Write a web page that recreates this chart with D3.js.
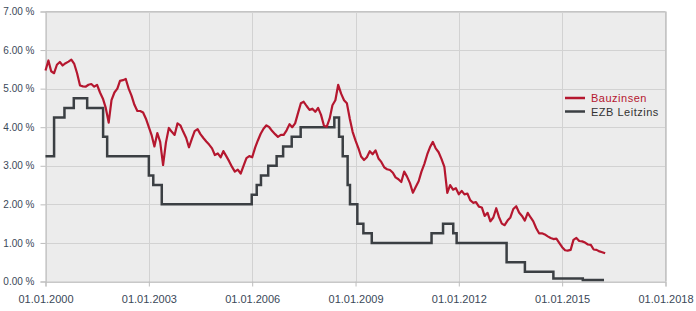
<!DOCTYPE html>
<html>
<head>
<meta charset="utf-8">
<script src="https://cdn.jsdelivr.net/npm/d3@7"></script>
<style>
  body { margin: 0; background: #fff; }
  svg text { font-family: "Liberation Sans", Arial, sans-serif; }
  .tick-label { fill: #3a4858; }
</style>
</head>
<body>
<svg id="chart" width="696" height="311"></svg>
<script>
// Bauzinsen, monthly from Jan 2000
var bauStart = '2000-01-01';
var bauzinsen = [
  5.47, 5.73, 5.45, 5.40, 5.62, 5.69, 5.60, 5.66, 5.70, 5.75, 5.64, 5.40,
  5.08, 5.06, 5.05, 5.10, 5.12, 5.05, 5.10, 4.90, 4.74, 4.50, 4.12, 4.70,
  4.90, 5.00, 5.20, 5.22, 5.25, 5.00, 4.82, 4.58, 4.42, 4.42, 4.38, 4.22,
  4.00, 3.78, 3.50, 3.85, 3.62, 3.02, 3.60, 3.98, 3.88, 3.80, 4.10, 4.05,
  3.88, 3.72, 3.48, 3.70, 3.90, 3.95, 3.82, 3.72, 3.63, 3.55, 3.45, 3.28,
  3.32, 3.22, 3.38, 3.25, 3.12, 2.97, 2.85, 2.90, 2.80, 3.00, 3.20, 3.25,
  3.22, 3.47, 3.65, 3.83, 3.96, 4.05, 4.00, 3.90, 3.82, 3.75, 3.80, 3.80,
  3.92, 4.08, 4.00, 4.10, 4.36, 4.62, 4.66, 4.55, 4.45, 4.48, 4.40, 4.50,
  4.32, 4.04, 4.01, 4.22, 4.57, 4.70, 5.10, 4.87, 4.70, 4.62, 4.22, 3.88,
  3.65, 3.45, 3.24, 3.15, 3.22, 3.38, 3.30, 3.40, 3.19, 3.10, 2.96, 2.91,
  2.89, 2.82, 2.70, 2.65, 2.58, 2.85, 2.72, 2.55, 2.30, 2.45, 2.60, 2.85,
  3.05, 3.30, 3.48, 3.62, 3.45, 3.35, 3.18, 2.97, 2.30, 2.50, 2.38, 2.42,
  2.26, 2.35, 2.26, 2.28, 2.11, 2.04, 2.06, 1.94, 1.92, 1.70, 1.78, 1.56,
  1.66, 1.90, 1.68, 1.50, 1.46, 1.58, 1.66, 1.88, 1.95, 1.79, 1.70, 1.58,
  1.78, 1.66, 1.56, 1.38, 1.25, 1.25, 1.22, 1.17, 1.13, 1.10, 1.11, 1.00,
  0.89, 0.81, 0.80, 0.82, 1.08, 1.13, 1.05, 1.04, 1.01, 0.96, 0.95, 0.83,
  0.82, 0.78, 0.76, 0.73
];

// EZB Leitzins, step changes
var ezbDates = [
  '2000-01-01', '2000-04-01', '2000-07-20', '2000-10-27', '2001-03-18', '2001-09-03',
  '2001-10-16', '2003-01-01', '2003-02-17', '2003-05-18', '2005-12-27', '2006-02-18',
  '2006-04-04', '2006-06-20', '2006-09-17', '2006-11-25', '2007-02-24', '2007-05-30',
  '2008-05-21', '2008-07-10', '2008-08-18', '2008-10-09', '2008-11-03', '2009-01-20',
  '2009-03-25', '2009-06-22', '2011-03-18', '2011-07-18', '2011-11-03', '2011-12-09',
  '2013-05-22', '2013-12-02', '2014-09-30', '2015-08-08', '2016-03-20'
];
var ezbRates = [
  3.25, 4.25, 4.50, 4.75, 4.50, 3.75,
  3.25, 2.75, 2.50, 2.00, 2.25, 2.50,
  2.75, 3.00, 3.25, 3.50, 3.75, 4.00,
  4.25, 3.75, 3.25, 2.50, 2.00, 1.50,
  1.25, 1.00, 1.25, 1.50, 1.25, 1.00,
  0.50, 0.25, 0.08, 0.04, 0.04
];

var xTickYears = [2000, 2003, 2006, 2009, 2012, 2015, 2018];
var yTicks = [0, 1, 2, 3, 4, 5, 6, 7];

var seriesNames = ['Bauzinsen', 'EZB Leitzins'];
var seriesColors = ['#b5172f', '#3b3f43'];

var parse = d3.timeParse('%Y-%m-%d');
var start = parse(bauStart);
var bauData = bauzinsen.map(function (v, i) {
  return { date: d3.timeMonth.offset(start, i), value: v };
});
var ezbData = ezbDates.map(function (d, i) {
  return { date: parse(d), value: ezbRates[i] };
});

var svg = d3.select('#chart');
var plotLeft = 45.5, plotRight = 665.5, plotTop = 11.5, plotBottom = 281.5;

var x = d3.scaleTime()
  .domain([new Date(2000, 0, 1), new Date(2018, 0, 1)])
  .range([plotLeft, plotRight]);
var y = d3.scaleLinear()
  .domain([0, 7])
  .range([plotBottom, plotTop]);

// plot background
svg.append('rect')
  .attr('x', plotLeft).attr('y', plotTop)
  .attr('width', plotRight - plotLeft).attr('height', plotBottom - plotTop)
  .attr('fill', '#ececec');

// grid
svg.append('g')
  .selectAll('line')
  .data(yTicks)
  .enter().append('line')
  .attr('x1', plotLeft).attr('x2', plotRight)
  .attr('y1', function (d) { return Math.round(y(d)) + 0.5; })
  .attr('y2', function (d) { return Math.round(y(d)) + 0.5; })
  .attr('stroke', '#d2d2d2');

svg.append('g')
  .selectAll('line')
  .data(xTickYears)
  .enter().append('line')
  .attr('x1', function (d) { return Math.round(x(new Date(d, 0, 1))) + 0.5; })
  .attr('x2', function (d) { return Math.round(x(new Date(d, 0, 1))) + 0.5; })
  .attr('y1', plotTop).attr('y2', plotBottom)
  .attr('stroke', '#d2d2d2');

// frame top / right
svg.append('line')
  .attr('x1', plotLeft).attr('x2', plotRight).attr('y1', plotTop).attr('y2', plotTop)
  .attr('stroke', '#c4c4c4');
svg.append('line')
  .attr('x1', plotRight).attr('x2', plotRight).attr('y1', plotTop).attr('y2', plotBottom)
  .attr('stroke', '#c4c4c4');

// axes
var yAxis = svg.append('g')
  .attr('transform', 'translate(' + plotLeft + ',0)')
  .call(d3.axisLeft(y)
    .tickValues(yTicks)
    .tickSize(5)
    .tickPadding(6)
    .tickFormat(function (d) { return d3.format('.2f')(d) + ' %'; }));
yAxis.select('.domain').attr('stroke', '#bdbdbd');
yAxis.selectAll('.tick line').attr('stroke', '#bdbdbd');
yAxis.selectAll('text')
  .attr('class', 'tick-label')
  .style('font-size', '10px');

var xAxis = svg.append('g')
  .attr('transform', 'translate(0,' + plotBottom + ')')
  .call(d3.axisBottom(x)
    .tickValues(xTickYears.map(function (yr) { return new Date(yr, 0, 1); }))
    .tickSize(5)
    .tickPadding(9)
    .tickFormat(d3.timeFormat('%d.%m.%Y')));
xAxis.select('.domain').attr('stroke', '#bdbdbd');
xAxis.selectAll('.tick line').attr('stroke', '#bdbdbd');
xAxis.selectAll('text')
  .attr('class', 'tick-label')
  .style('font-size', '11px');

// lines
var lineBau = d3.line()
  .x(function (d) { return x(d.date); })
  .y(function (d) { return y(d.value); });

var lineEzb = d3.line()
  .curve(d3.curveStepAfter)
  .x(function (d) { return x(d.date); })
  .y(function (d) { return y(d.value); });

svg.append('path')
  .datum(ezbData)
  .attr('d', lineEzb)
  .attr('fill', 'none')
  .attr('stroke', seriesColors[1])
  .attr('stroke-width', 2.5);

svg.append('path')
  .datum(bauData)
  .attr('d', lineBau)
  .attr('fill', 'none')
  .attr('stroke', seriesColors[0])
  .attr('stroke-width', 2.2)
  .attr('stroke-linejoin', 'round');

// legend
var legend = svg.append('g')
  .attr('transform', 'translate(565,98)');

var items = legend.selectAll('g')
  .data(seriesNames)
  .enter().append('g')
  .attr('transform', function (d, i) { return 'translate(0,' + (i * 13.5) + ')'; });

items.append('line')
  .attr('x1', 0).attr('x2', 20)
  .attr('y1', 0).attr('y2', 0)
  .attr('stroke', function (d, i) { return seriesColors[i]; })
  .attr('stroke-width', 2.5);

items.append('text')
  .attr('x', 26)
  .attr('y', 4)
  .style('font-size', '11px')
  .style('letter-spacing', '0.5px')
  .attr('fill', function (d, i) { return i === 0 ? '#b5172f' : '#333'; })
  .text(function (d) { return d; });
</script>
</body>
</html>
